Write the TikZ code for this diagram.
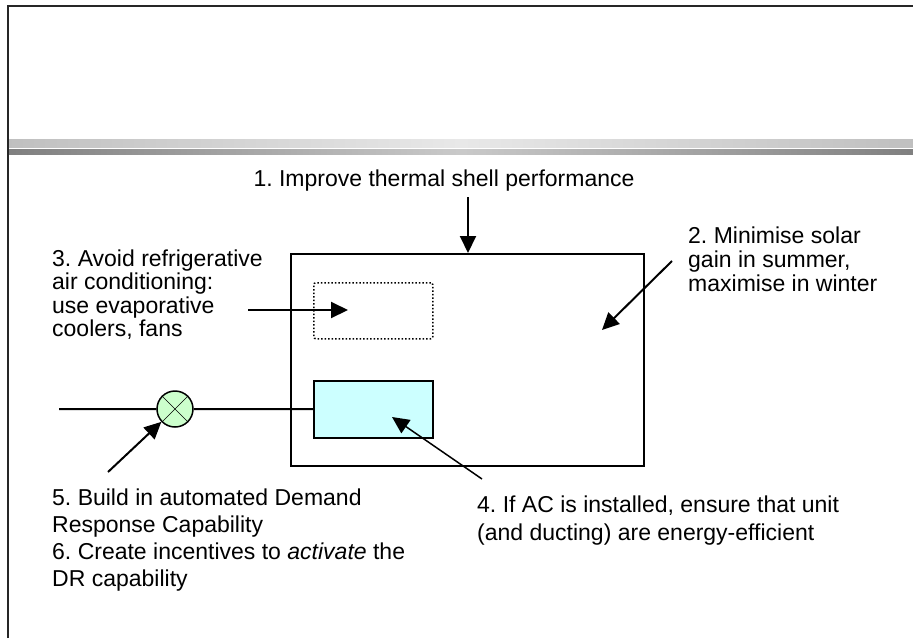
\documentclass[tikz,border=0pt]{standalone}
\usepackage{fontspec}
\setmainfont{Liberation Sans}
\usetikzlibrary{arrows.meta}
\frenchspacing

\definecolor{acblue}{HTML}{CCFFFF}
\definecolor{drgreen}{HTML}{CCFFCC}

\begin{document}
\begin{tikzpicture}[x=1pt,y=-1pt,
  lbl/.style={font=\fontsize{23}{24}\selectfont,align=left,inner sep=0pt,anchor=base west},
  box/.style={draw,line width=1.5pt,inner sep=0pt,anchor=north west},
  arr/.style={line width=2pt,-{Triangle[length=17pt,width=16pt]}}]
  \useasboundingbox (0,0) rectangle (913,638);
  % slide frame and title bands
  \shade[left color=black!25,right color=black!25,middle color=black!9] (9,139) rectangle (913,147);
  \shade[left color=black!50,right color=black!50,middle color=black!21] (9,149) rectangle (913,154);
  \draw[line width=2pt,black!85] (8,638) -- (8,6) -- (913,6);
  % house, cooler and AC unit
  \node[box,minimum width=353pt,minimum height=212pt] (house) at (290,253) {};
  \node[box,dotted,rounded corners=2pt,minimum width=119pt,minimum height=56pt] (evap) at (313,282) {};
  \node[box,fill=acblue,minimum width=119pt,minimum height=57pt] (acunit) at (313,380) {};
  \node[circle,draw,fill=drgreen,line width=1.5pt,minimum size=36pt,inner sep=0pt] (dr) at (175,409) {};
  \draw (dr.45) -- (dr.225) (dr.135) -- (dr.315);
  \coordinate (grid) at (59,409);
  \draw[line width=2pt] (grid) -- (dr) -- (acunit);
  % labels (anchored at the baseline of their last line)
  \node[lbl,anchor=base] (t1) at (444,186) {1. Improve thermal shell performance};
  \node[lbl] (t2) at (688,291) {2. Minimise solar\\gain in summer,\\maximise in winter};
  \node[lbl,font=\fontsize{23}{23.5}\selectfont] (t3) at (52,336.5) {3. Avoid refrigerative\\air conditioning:\\use evaporative\\coolers, fans};
  \node[lbl,font=\fontsize{23}{28}\selectfont] (t4) at (477,540) {4. If AC is installed, ensure that unit\\(and ducting) are energy-efficient};
  \node[lbl,font=\fontsize{23}{26.7}\selectfont] (t5) at (52,586) {5. Build in automated Demand\\Response Capability\\6. Create incentives to \textit{activate} the\\DR capability};
  % arrows
  \coordinate (a1) at (468,197);
  \coordinate (a2s) at (672,261);
  \coordinate (a2e) at (602,330);
  \coordinate (a3s) at (248,310);
  \coordinate (a3e) at (348,310);
  \coordinate (a4s) at (482,479);
  \coordinate (a4e) at (392,417);
  \coordinate (a5) at (108,472);
  \draw[arr] (a1) -- (a1 |- house.north);
  \draw[arr] (a2s) -- (a2e);
  \draw[arr] (a3s) -- (a3e);
  \draw[arr,line width=1.5pt] (a4s) -- (a4e);
  \draw[arr] (a5) -- (dr);
\end{tikzpicture}
\end{document}
